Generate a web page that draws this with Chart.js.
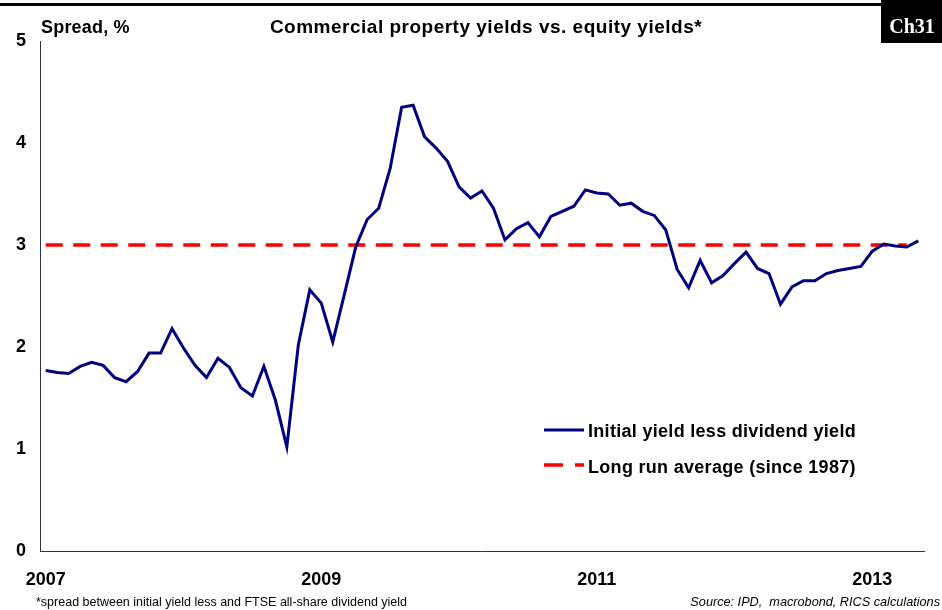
<!DOCTYPE html>
<html lang="en">
<head>
<meta charset="UTF-8">
<title>Commercial property yields vs. equity yields</title>
<script src="https://cdn.jsdelivr.net/npm/chart.js"></script>
<style>
  html, body { margin: 0; padding: 0; background: #fff; }
</style>
</head>
<body>
<canvas id="spreadChart" width="942" height="610"></canvas>

<script>
// monthly observations, Jan 2007 - May 2013
const months = [
  '2007-01','2007-02','2007-03','2007-04','2007-05','2007-06','2007-07','2007-08','2007-09','2007-10','2007-11','2007-12',
  '2008-01','2008-02','2008-03','2008-04','2008-05','2008-06','2008-07','2008-08','2008-09','2008-10','2008-11','2008-12',
  '2009-01','2009-02','2009-03','2009-04','2009-05','2009-06','2009-07','2009-08','2009-09','2009-10','2009-11','2009-12',
  '2010-01','2010-02','2010-03','2010-04','2010-05','2010-06','2010-07','2010-08','2010-09','2010-10','2010-11','2010-12',
  '2011-01','2011-02','2011-03','2011-04','2011-05','2011-06','2011-07','2011-08','2011-09','2011-10','2011-11','2011-12',
  '2012-01','2012-02','2012-03','2012-04','2012-05','2012-06','2012-07','2012-08','2012-09','2012-10','2012-11','2012-12',
  '2013-01','2013-02','2013-03','2013-04','2013-05'
];

// initial yield less dividend yield, %
const spread = [
  1.77, 1.75, 1.74, 1.81, 1.85, 1.82, 1.70, 1.66, 1.76, 1.94, 1.94, 2.18,
  1.99, 1.82, 1.70, 1.89, 1.80, 1.60, 1.52, 1.81, 1.48, 1.02, 2.02, 2.56,
  2.43, 2.05, 2.51, 2.98, 3.25, 3.36, 3.75, 4.35, 4.37, 4.06, 3.95, 3.82,
  3.57, 3.46, 3.53, 3.36, 3.05, 3.16, 3.22, 3.08, 3.28, 3.33, 3.38, 3.54,
  3.51, 3.50, 3.39, 3.41, 3.33, 3.29, 3.15, 2.76, 2.58, 2.85, 2.63, 2.70,
  2.82, 2.93, 2.77, 2.72, 2.42, 2.59, 2.65, 2.65, 2.72, 2.75, 2.77, 2.79,
  2.94, 3.01, 2.99, 2.98, 3.04
];

// long run average since 1987, drawn up to Apr 2013
const longRunAverage = 3.0;
const averageUntil = '2013-04';

const yearTicks = ['2007', '2009', '2011', '2013'];

const FONT = '"Liberation Sans", Arial, sans-serif';
const NARROW = '"Liberation Sans Narrow", "Arial Narrow", "Liberation Sans", sans-serif';

const averageLine = months.map(m => (m <= averageUntil ? longRunAverage : null));

// titles, tag, legend and notes
const decor = {
  id: 'decor',
  afterDraw(chart) {
    const ctx = chart.ctx;
    const ds = chart.data.datasets;
    ctx.save();

    // top rule and chart tag
    ctx.fillStyle = '#000';
    ctx.fillRect(0, 3, 942, 3);
    ctx.fillRect(881, 0, 61, 43);
    ctx.fillStyle = '#fff';
    ctx.font = 'bold 20px "Liberation Serif", "Times New Roman", serif';
    ctx.textAlign = 'center';
    ctx.textBaseline = 'alphabetic';
    ctx.fillText('Ch31', 912, 33);

    ctx.fillStyle = '#000';
    ctx.font = 'bold 18px ' + FONT;
    ctx.textAlign = 'left';
    ctx.letterSpacing = '0.2px';
    ctx.fillText('Spread, %', 41, 33);
    ctx.font = 'bold 19px ' + FONT;
    ctx.letterSpacing = '0.5px';
    ctx.textAlign = 'center';
    ctx.fillText('Commercial property yields vs. equity yields*', 486, 33);

    // legend
    ctx.font = 'bold 18px ' + FONT;
    ctx.textAlign = 'left';
    ctx.letterSpacing = '0.3px';
    ctx.lineCap = 'butt';

    ctx.strokeStyle = ds[0].borderColor;
    ctx.lineWidth = 3;
    ctx.beginPath();
    ctx.moveTo(544, 430);
    ctx.lineTo(584, 430);
    ctx.stroke();
    ctx.fillText(ds[0].label, 588, 437);

    ctx.strokeStyle = ds[1].borderColor;
    ctx.lineWidth = 3.5;
    ctx.setLineDash([19, 12]);
    ctx.beginPath();
    ctx.moveTo(544, 465);
    ctx.lineTo(584, 465);
    ctx.stroke();
    ctx.setLineDash([]);
    ctx.fillText(ds[1].label, 588, 473);

    // notes
    ctx.letterSpacing = '0px';
    ctx.font = '12.5px ' + NARROW;
    ctx.fillText('*spread between initial yield less and FTSE all-share dividend yield', 36, 606);
    ctx.textAlign = 'right';
    ctx.font = 'italic 12.7px ' + NARROW;
    ctx.fillText('Source: IPD,  macrobond, RICS calculations', 940, 606);

    ctx.restore();
  }
};

const ctx = document.getElementById('spreadChart').getContext('2d');

new Chart(ctx, {
  type: 'line',
  data: {
    labels: months,
    datasets: [
      {
        label: 'Initial yield less dividend yield',
        data: spread,
        borderColor: '#000080',
        borderWidth: 3,
        pointRadius: 0,
        tension: 0,
        fill: false
      },
      {
        label: 'Long run average (since 1987)',
        data: averageLine,
        borderColor: '#ff0000',
        borderWidth: 3.5,
        borderDash: [17, 10.5],
        pointRadius: 0,
        fill: false
      }
    ]
  },
  options: {
    responsive: false,
    animation: false,
    layout: { padding: { top: 41, right: 18, left: 0, bottom: 0 } },
    plugins: {
      legend: { display: false },
      title: { display: false },
      tooltip: { enabled: false }
    },
    scales: {
      x: {
        offset: true,
        grid: { display: false, drawTicks: false },
        border: { color: '#333', width: 1 },
        ticks: {
          autoSkip: false,
          maxRotation: 0,
          padding: 18,
          color: '#000',
          font: { family: FONT, size: 18, weight: 'bold' },
          callback(value) {
            const lab = this.getLabelForValue(value);
            const [yr, mo] = lab.split('-');
            return mo === '01' && yearTicks.includes(yr) ? yr : '';
          }
        },
        afterFit(scale) { scale.height = 59; }
      },
      y: {
        min: 0,
        max: 5,
        grid: { display: false, drawTicks: false },
        border: { color: '#333', width: 1 },
        ticks: {
          stepSize: 1,
          padding: 14,
          color: '#000',
          font: { family: FONT, size: 18, weight: 'bold' }
        },
        afterFit(scale) { scale.width = 40; }
      }
    }
  },
  plugins: [decor]
});
</script>
</body>
</html>
